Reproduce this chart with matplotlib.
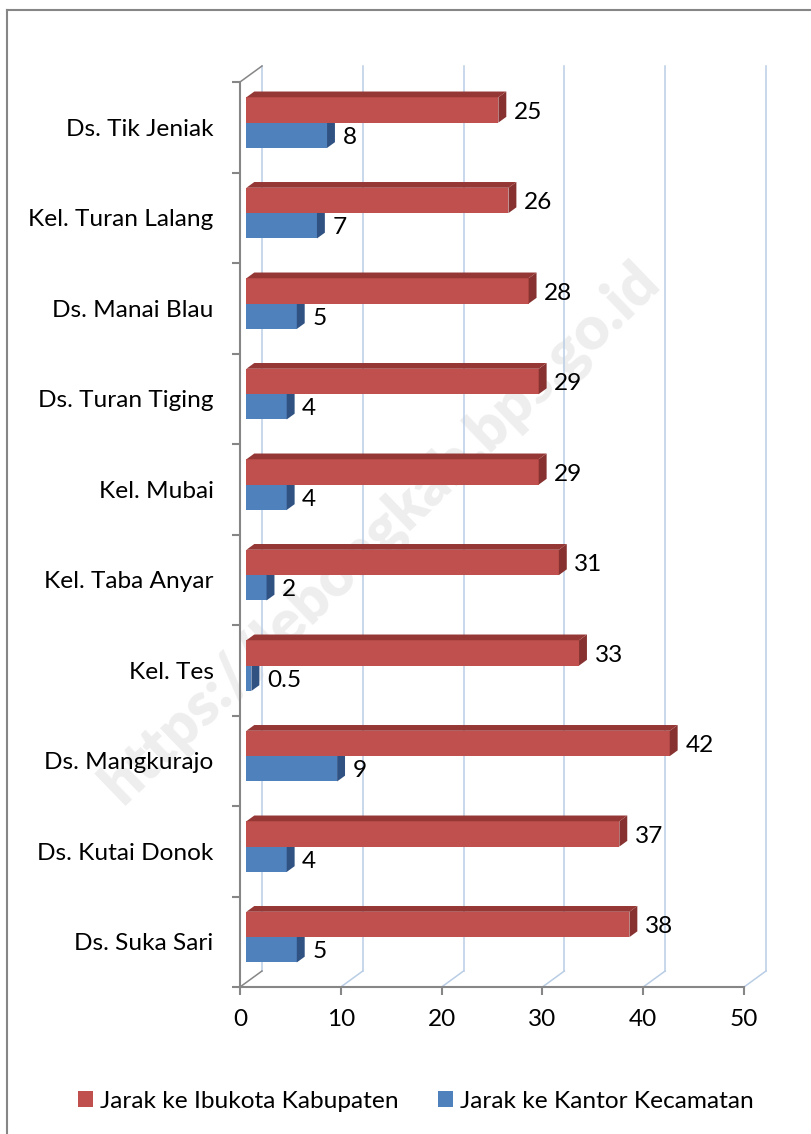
"""Jarak desa/kelurahan ke ibukota kabupaten dan kantor kecamatan (3D-style horizontal bars)."""
import matplotlib
matplotlib.use("Agg")
import matplotlib.pyplot as plt
from matplotlib.patches import Polygon, Patch
from matplotlib.lines import Line2D

# --- data (top to bottom, as in the chart) ---
desa = ["Ds. Tik Jeniak", "Kel. Turan Lalang", "Ds. Manai Blau", "Ds. Turan Tiging",
        "Kel. Mubai", "Kel. Taba Anyar", "Kel. Tes", "Ds. Mangkurajo",
        "Ds. Kutai Donok", "Ds. Suka Sari"]
ke_kabupaten = [25, 26, 28, 29, 29, 31, 33, 42, 37, 38]
ke_kecamatan = [8, 7, 5, 4, 4, 2, 0.5, 9, 4, 5]
series_names = ["Jarak ke Ibukota Kabupaten", "Jarak ke Kantor Kecamatan"]
x_ticks = [0, 10, 20, 30, 40, 50]

plt.rcParams["font.family"] = ["Lato", "DejaVu Sans"]
FS = 17.6
GRAY = "#868686"
GRID = "#B9CDE5"
RED, RED_TOP, RED_SIDE = "#C0504D", "#953735", "#873230"
BLUE, BLUE_SIDE = "#4F81BD", "#2F5283"

W, H = 812, 1134
fig = plt.figure(figsize=(W / 100, H / 100), dpi=100)
# front plane of the plot area, in pixels: x 240..744, y 82..987
ax = fig.add_axes([240 / W, 1 - 987 / H, 504 / W, 905 / H])
ax.patch.set_visible(False)
n = len(desa)
ax.set_xlim(0, 50)
ax.set_ylim(-0.5, n - 0.5)

# depth of the 3D box in data units (22 px right, 16 px up)
DX = 22 / (504 / 50)
DY = 16 / (905 / n)
Z0, Z1 = 0.29, 0.65   # bar front/back depth
BH = 0.28             # bar thickness


def proj(v, y, z):
    return (v + z * DX, y + z * DY)


# back wall gridlines + floor lines
for v in x_ticks:
    bx = [proj(v, -0.5, 1)[0], proj(v, n - 0.5, 1)[0]]
    by = [proj(v, -0.5, 1)[1], proj(v, n - 0.5, 1)[1]]
    ax.plot(bx, by, color=GRID, lw=1.1, clip_on=False, zorder=1)
    f0, f1 = proj(v, -0.5, 0), proj(v, -0.5, 1)
    ax.plot([f0[0], f1[0]], [f0[1], f1[1]], color=GRAY if v == 0 else GRID,
            lw=1.1, clip_on=False, zorder=1)
# top edge of left wall
t0, t1 = proj(0, n - 0.5, 0), proj(0, n - 0.5, 1)
ax.plot([t0[0], t1[0]], [t0[1], t1[1]], color=GRAY, lw=1.1, clip_on=False, zorder=1)


def bars3d(vals, bottoms, front, side, top=None):
    ax.barh([b + Z0 * DY for b in bottoms], vals, height=BH, left=Z0 * DX,
            align="edge", color=front, zorder=3, clip_on=False)
    for v, b in zip(vals, bottoms):
        t = b + BH
        ax.add_patch(Polygon([proj(v, b, Z0), proj(v, b, Z1), proj(v, t, Z1), proj(v, t, Z0)],
                             closed=True, color=side, zorder=3, clip_on=False, lw=0))
        if top:
            ax.add_patch(Polygon([proj(0, t, Z0), proj(v, t, Z0), proj(v, t, Z1), proj(0, t, Z1)],
                                 closed=True, color=top, zorder=3, clip_on=False, lw=0))


ypos = [n - 1 - k for k in range(n)]
bars3d(ke_kecamatan, [y - BH for y in ypos], BLUE, BLUE_SIDE)
bars3d(ke_kabupaten, ypos, RED, RED_SIDE, RED_TOP)

# value labels
for vals, bottoms in [(ke_kabupaten, ypos), (ke_kecamatan, [y - BH for y in ypos])]:
    for v, b in zip(vals, bottoms):
        px, py = proj(v, b + BH / 2, Z0)
        ax.annotate(f"{v:g}", (v + Z1 * DX, py), xytext=(5.5, -1.5), textcoords="offset points",
                    ha="left", va="center", fontsize=FS, color="black", zorder=4,
                    annotation_clip=False)

# axes styling
for s in ["top", "right"]:
    ax.spines[s].set_visible(False)
for s in ["left", "bottom"]:
    ax.spines[s].set_color(GRAY)
    ax.spines[s].set_linewidth(1.5)
ax.set_xticks(x_ticks)
ax.tick_params(axis="x", colors=GRAY, width=1.5, length=6, labelsize=FS, labelcolor="black", pad=10)
ax.set_yticks([k - 0.5 for k in range(n + 1)])
ax.set_yticklabels([])
ax.tick_params(axis="y", which="major", colors=GRAY, width=1.5, length=6)
ax.set_yticks(ypos, minor=True)
ax.set_yticklabels(desa, minor=True)
ax.tick_params(axis="y", which="minor", length=0, labelsize=FS, labelcolor="black", pad=19)

# legend
handles = [Patch(facecolor=RED, edgecolor="none"), Patch(facecolor=BLUE, edgecolor="none")]
fig.legend(handles, series_names, loc="center", bbox_to_anchor=(416 / W, 1 - 1101 / H),
           ncol=2, frameon=False, fontsize=FS, handlelength=0.62, handleheight=0.62,
           handletextpad=0.3, columnspacing=1.6)

# chart area border (left and top edges only are inside the image)
fig.add_artist(Line2D([7 / W, 7 / W], [0, 1 - 10 / H], color=GRAY, lw=1.5))
fig.add_artist(Line2D([7 / W, 1], [1 - 10 / H, 1 - 10 / H], color=GRAY, lw=1.5))

# watermark
fig.text(380 / W, 1 - 532 / H, "https://lebongkab.bps.go.id", rotation=44, ha="center",
         va="center", fontsize=43, fontweight="heavy", color="#EEEEEE", zorder=-1)

fig.savefig("out.png", dpi=100, facecolor="white")
